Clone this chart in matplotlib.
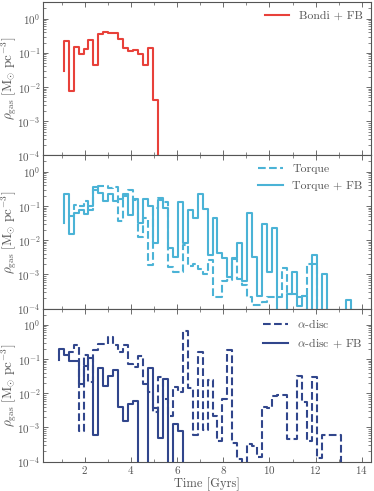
import numpy as np
import matplotlib
matplotlib.use("Agg")
import matplotlib.pyplot as plt
from matplotlib.ticker import LogLocator, MultipleLocator, NullFormatter

# ---------------- data ----------------
# common time grid (Gyr); each value below is the density of the bin ending at that time
time_grid = [0.865, 1.08, 1.295, 1.51, 1.725, 1.94, 2.155, 2.37, 2.585, 2.8,
             3.015, 3.23, 3.445, 3.66, 3.875, 4.09, 4.305, 4.52, 4.735, 4.95,
             5.165, 5.38, 5.595, 5.81, 6.025, 6.24, 6.455, 6.67, 6.885, 7.1,
             7.315, 7.53, 7.745, 7.96, 8.175, 8.39, 8.605, 8.82, 9.035, 9.25,
             9.465, 9.68, 9.895, 10.11, 10.325, 10.54, 10.755, 10.97, 11.185, 11.4,
             11.615, 11.83, 12.045, 12.26, 12.475, 12.69, 12.905, 13.12, 13.335, 13.55,
             13.765]

bondi_fb_start = 1
bondi_fb = [0.03, 0.215, 0.0078, 0.15, 0.093, 0.128, 0.24, 0.043, 0.35, 0.405,
            0.39, 0.37, 0.26, 0.14, 0.11, 0.125, 0.091, 0.044, 0.14, 0.0041, 0]

torque_start = 2
torque = [0.05, 0.05, 0.11, 0.1, 0.137, 0.078, 0.3, 0.38, 0.38, 0.34,
          0.35, 0.037, 0.19, 0.29, 0.15, 0.012, 0.044, 0.0019, 0.09, 0.17,
          0.13, 0.0016, 0.0012, 0.0012, 0.007, 0.0017, 0.002, 0.0014, 0.001, 0.0027,
          2.2e-4, 2.2e-4, 6.5e-4, 7e-4, 0.0028, 7.5e-4, 5e-4, 2.2e-4, 1.3e-4, 1.3e-4,
          1.6e-4, 2.2e-4, 2.2e-4, 2.2e-4, 0.0015, 2.7e-4, 2.7e-4, 2.2e-4, 2.4e-4, 0.002,
          0.002, 0]

torque_fb_start = 1
torque_fb = [0.032, 0.22, 0.0155, 0.062, 0.078, 0.06, 0.1, 0.35, 0.24, 0.137,
             0.22, 0.14, 0.16, 0.22, 0.055, 0.155, 0.032, 0.155, 0.1, 0.0083,
             0.15, 0.09, 0.0058, 0.0033, 0.13, 0.0083, 0.078, 0.045, 0.22, 0.08,
             0.0037, 0.045, 0.0042, 0.0031, 8.5e-4, 0.003, 0.0081, 6.2e-4, 0.062, 0.0033,
             2.4e-4, 0.03, 0.0012, 0.022, 0, 0, 2.7e-4, 0.0012, 1.2e-4, 2.4e-4,
             0, 0.0036, 0, 0.001, 0, 0, 0, 0, 1.8e-4, 0]

alpha_start = 2
alpha = [0.128, 0.16, 0.25, 8e-4, 0.128, 0.021, 0.18, 0.27, 0.28, 0.44,
         0.25, 0.16, 0.25, 0.073, 0.06, 0.12, 0.019, 0.011, 0.0029, 0.03,
         0.007, 0.0021, 0.015, 0.011, 0.66, 0.014, 6e-4, 0.16, 8.4e-4, 0.024,
         0.0021, 3.9e-4, 0.0067, 0.19, 3.5e-4, 1.2e-4, 9e-5, 3.4e-4, 2.9e-4, 1.4e-4,
         0.004, 0.0036, 0.0085, 0.009, 0.009, 4.7e-4, 4.7e-4, 0.033, 0.0056, 3.9e-4,
         0.03, 1.3e-4, 6e-4, 6e-4, 6e-4, 6e-4, 0]

alpha_fb_start = 0
alpha_fb = [0.092, 0.2, 0.128, 0.087, 0.087, 0.019, 0.063, 0.11, 6e-4, 0.055,
            0.016, 0.033, 0.049, 0.004, 0.0016, 0.005, 0.006, 0, 0, 0.055,
            0.0036, 4.8e-4, 0.027, 0, 0.0013, 8e-4, 0]

xticks = [2, 4, 6, 8, 10, 12, 14]
xlabel = "Time [Gyrs]"
ylabel = r"$\rho_{\rm gas}\ [{\rm M}_{\odot}\ {\rm pc}^{-3}]$"

c_red = "#e8413a"
c_cyan = "#4bb3d6"
c_navy = "#31468c"
grey = "#555555"

# ---------------- style ----------------
plt.rcParams.update({
    "font.family": "serif",
    "font.serif": ["cmr10"],
    "mathtext.fontset": "cm",
    "axes.formatter.use_mathtext": True,
    "font.size": 9,
    "text.color": grey,
    "axes.labelcolor": grey,
    "xtick.color": grey,
    "ytick.color": grey,
    "axes.edgecolor": grey,
    "xtick.direction": "in",
    "ytick.direction": "in",
    "xtick.top": True,
    "ytick.right": True,
})

fig = plt.figure(figsize=(3.74, 4.91), dpi=100)
gs = fig.add_gridspec(3, 1, left=0.116, right=0.992, bottom=0.0597, top=0.9953, hspace=0)
axes = [fig.add_subplot(gs[i]) for i in range(3)]
for ax in axes[1:]:
    ax.sharex(axes[0])


def draw(ax, start, vals, **kw):
    t = time_grid[start:start + len(vals)]
    ax.step(t, vals, where="pre", lw=1.5, **kw)


draw(axes[0], bondi_fb_start, bondi_fb, color=c_red, label="Bondi + FB")
draw(axes[1], torque_start, torque, color=c_cyan, ls="--", label="Torque")
draw(axes[1], torque_fb_start, torque_fb, color=c_cyan, label="Torque + FB")
draw(axes[2], alpha_start, alpha, color=c_navy, ls="--", label=r"$\alpha$-disc")
draw(axes[2], alpha_fb_start, alpha_fb, color=c_navy, label=r"$\alpha$-disc + FB")

for i, ax in enumerate(axes):
    ax.set_yscale("log")
    ax.set_ylim(1e-4, 3)
    ax.set_xlim(0.2, 14.4)
    ax.yaxis.set_major_locator(LogLocator(base=10, numticks=10))
    ax.yaxis.set_minor_locator(LogLocator(base=10, subs=np.arange(2, 10), numticks=20))
    ax.yaxis.set_minor_formatter(NullFormatter())
    ax.set_xticks(xticks)
    ax.xaxis.set_minor_locator(MultipleLocator(1))
    ax.tick_params(which="major", length=3.5, width=0.6, pad=2, labelsize=8)
    ax.tick_params(which="minor", length=2, width=0.5)
    for s in ax.spines.values():
        s.set_linewidth(0.8)
    ax.set_ylabel(ylabel, fontsize=9.5)
    ax.yaxis.set_label_coords(-0.073, 0.5)
    ax.legend(loc="upper right", frameon=False, fontsize=8.5, handlelength=2.1,
              borderaxespad=0.3, labelspacing=0.6)
    if i < 2:
        ax.tick_params(labelbottom=False)

axes[2].set_xlabel(xlabel, fontsize=9, labelpad=1)

fig.savefig("out.png", dpi=100)
